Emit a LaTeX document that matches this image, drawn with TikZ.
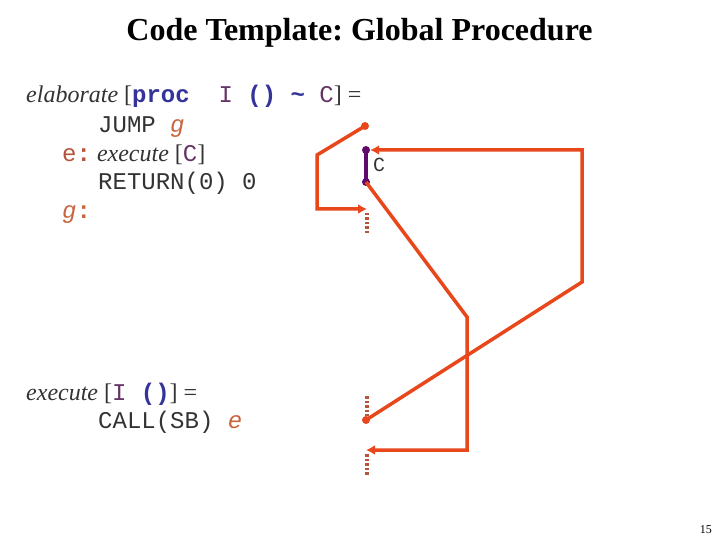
\documentclass[tikz,border=0pt]{standalone}
\usepackage{fontspec}
\setmainfont{Liberation Serif}
\newfontfamily\mono{Liberation Mono}
\usetikzlibrary{arrows.meta}
\frenchspacing
\definecolor{orng}{HTML}{E8471C}
\definecolor{dotc}{HTML}{B5553A}
\definecolor{purp}{HTML}{5F0A6A}
\definecolor{kw}{HTML}{333399}
\definecolor{pu}{HTML}{663366}
\definecolor{lbl}{HTML}{B5543A}
\definecolor{lblg}{HTML}{C8653F}
\definecolor{codec}{HTML}{333333}
\tikzset{
  codeline/.style={anchor=base west, inner sep=0pt, font=\fontsize{24bp}{28bp}\selectfont, text=codec},
  flow/.style={draw=orng, line width=3.5bp, line join=miter},
  tip/.style={-{Latex[length=9bp,width=10bp]}},
  stub/.style={draw=dotc, line width=3.5bp, dash pattern=on 2.5bp off 2bp},
  pdot/.style={circle, fill=purp, inner sep=0pt, minimum size=8bp},
  odot/.style={circle, fill=orng, inner sep=0pt, minimum size=8bp}
}
\newcommand{\kwb}[1]{{\mono\bfseries\color{kw}#1}}
\newcommand{\pv}[1]{{\mono\color{pu}#1}}
\begin{document}
\begin{tikzpicture}[x=1bp,y=-1bp]
\useasboundingbox (0,0) rectangle (720,540);
\node[anchor=base, inner sep=0pt, font=\fontsize{32bp}{36bp}\selectfont\bfseries] (title) at (359.5,41) {Code Template: Global Procedure};

\node[codeline] (l1) at (26,103) {\textit{elaborate} [\kwb{proc\ \ }\pv{I\ }\kwb{()\ \char"7E\ }\pv{C}] =};
\node[codeline] (l2) at (98,133) {{\mono JUMP {\color{lblg}\itshape g}}};
\node[codeline] (l3) at (62,162) {{\mono\color{lbl}e\textbf{:}} \textit{execute} [\pv{C}]};
\node[codeline] (l4) at (98,190) {{\mono RETURN(0) 0}};
\node[codeline] (l5) at (62,219) {{\mono\color{lblg}{\itshape g}\textbf{:}}};

\node[codeline] (m1) at (26,400) {\textit{execute} [\pv{I\ }\kwb{()}] =};
\node[codeline] (m2) at (98,428) {{\mono CALL(SB) {\color{lblg}\itshape e}}};

\node[anchor=base east, inner sep=0pt, font=\fontsize{12bp}{14bp}\selectfont] (pg) at (712,533) {15};

% points
\node[odot] (a0) at (365,126) {};
\coordinate (a1) at (317,155);
\coordinate (a2) at (317,209);
\coordinate (a3) at (367,209);
\coordinate (s1a) at (367,213);
\coordinate (s1b) at (367,234);

\node[pdot] (c0) at (366,150) {};
\node[pdot] (c1) at (366,182) {};
\node[anchor=west, inner sep=0pt, font=\fontsize{20bp}{24bp}\selectfont\mono, text=codec] (clbl) at (373,165) {C};

\coordinate (b1) at (467,317);
\coordinate (b2) at (467,450);
\coordinate (b3) at (366,450);
\coordinate (s3a) at (367,454);
\coordinate (s3b) at (367,475);

\node[odot] (d0) at (366,420) {};
\coordinate (d1) at (582,282);
\coordinate (d2) at (582,150);
\coordinate (s2a) at (367,396);
\coordinate (s2b) at (367,416);

% connectors
\draw[flow, tip] (a0.center) -- (a1) -- (a2) -- (a3);
\draw[stub] (s1a) -- (s1b);
\draw[draw=purp, line width=3.5bp] (c0.center) -- (c1.center);
\draw[flow, tip] (c1.center) -- (b1) -- (b2) -- (b3);
\draw[stub] (s3a) -- (s3b);
\draw[flow, tip] (d0.center) -- (d1) -- (d2) -- (c0.east);
\draw[stub] (s2a) -- (s2b);
\end{tikzpicture}
\end{document}
